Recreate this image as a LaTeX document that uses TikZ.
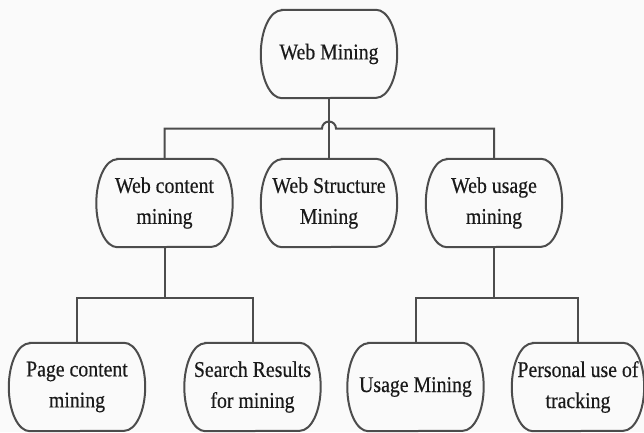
\documentclass[tikz,border=0pt]{standalone}
\usepackage{fontspec}
\setmainfont{Liberation Serif}[FakeStretch=0.88, FakeBold=0.4]
\usepackage{tikz}

\definecolor{linegray}{HTML}{4C4C4C}
\definecolor{textgray}{HTML}{1A1A1A}

\tikzset{
  item/.style={minimum width=136pt, minimum height=88pt, inner sep=0pt,
    align=center, text=textgray, font=\fontsize{22.5}{31}\selectfont},
  link/.style={draw=linegray, line width=2pt},
}

\begin{document}
\begin{tikzpicture}
      \useasboundingbox[fill=gray!4] (0,0) rectangle (644pt,-432pt);
      % nodes
      \node[item] (wm)  at (329pt,-54pt)    {Web Mining};
      \node[item] (wcm) at (164.5pt,-203pt) {Web content\\mining};
      \node[item] (wsm) at (329pt,-203pt)   {Web Structure\\Mining};
      \node[item] (wum) at (494pt,-203pt)   {Web usage\\mining};
      \node[item] (pcm) at (77pt,-387pt)    {Page content\\mining};
      \node[item] (srm) at (252.5pt,-387pt) {Search Results\\for mining};
      \node[item] (um)  at (415.5pt,-387pt) {Usage Mining};
      \node[item, minimum width=132pt] (put) at (578pt,-387pt) {Personal use of\\tracking};
      % outlines
      \foreach \b in {wm,wcm,wsm,wum,pcm,srm,um,put}
        \draw[link] ([xshift=21pt]\b.north west) -- ([xshift=-21pt]\b.north east)
          arc[start angle=90, end angle=-90, x radius=21pt, y radius=44pt]
          -- ([xshift=21pt]\b.south west)
          arc[start angle=270, end angle=90, x radius=21pt, y radius=44pt] -- cycle;
      % connectors
      \draw[link] (wm) -- coordinate (hop) (wsm);
      \draw[link] (wcm.north) |- ([xshift=-7pt]hop)
        arc[start angle=180, end angle=0, radius=7pt] -| (wum.north);
      \draw[link] (wcm.south) -- ++(0,-51pt) coordinate (lj);
      \draw[link] (pcm.north) |- (lj) -| (srm.north);
      \draw[link] (wum.south) -- ++(0,-51pt) coordinate (rj);
      \draw[link] (um.north) |- (rj) -| (put.north);
\end{tikzpicture}
\end{document}
